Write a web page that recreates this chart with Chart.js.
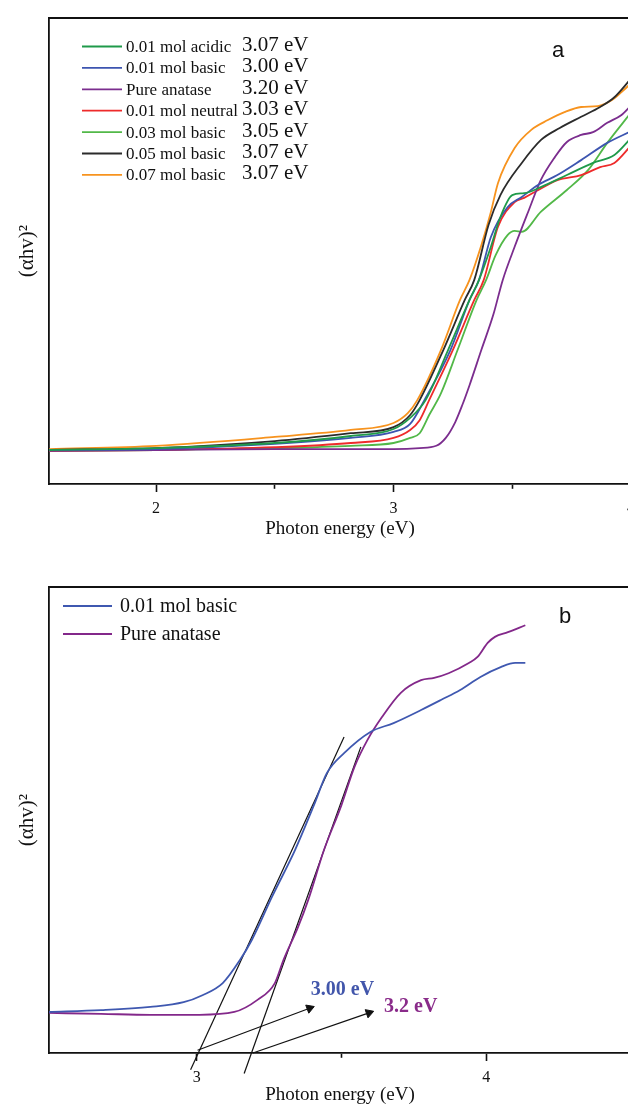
<!DOCTYPE html>
<html>
<head>
<meta charset="utf-8">
<script src="https://cdn.jsdelivr.net/npm/chart.js@4.4.1/dist/chart.umd.min.js"></script>
<style>
  html, body { margin: 0; padding: 0; background: #fff; overflow: hidden; width: 628px; height: 1107px; }
  .panel { position: absolute; left: 0; width: 660px; }
  #panelA { top: 0; height: 544px; }
  #panelB { top: 569px; height: 541px; }
</style>
</head>
<body>
<div class="panel" id="panelA"><canvas id="chartA" width="660" height="544"></canvas></div>
<div class="panel" id="panelB"><canvas id="chartB" width="660" height="541"></canvas></div>
<script>
const SERIF = "'Liberation Serif', 'Times New Roman', serif";
const SANS = "'Liberation Sans', Arial, sans-serif";

// ---- panel a : (ahv)^2 vs photon energy, all samples ----
const namesA = ["0.01 mol acidic", "0.01 mol basic", "Pure anatase", "0.01 mol neutral", "0.03 mol basic", "0.05 mol basic", "0.07 mol basic"];
const gapsA = ["3.07 eV", "3.00 eV", "3.20 eV", "3.03 eV", "3.05 eV", "3.07 eV", "3.07 eV"];
const colorsA = ["#1f9a4a", "#3d55b0", "#7b2d8e", "#ee2b2b", "#52b848", "#2b2b2b", "#f7931e"];
const ticksA = [2, 2.5, 3, 3.5, 4];

const acidicX = [1.55, 2.00, 2.50, 2.82, 3.00, 3.07, 3.135, 3.23, 3.32, 3.36, 3.41, 3.45, 3.50, 3.55, 3.62, 3.73, 3.84, 3.93, 4.00];
const acidicY = [7.3, 7.7, 8.8, 10.3, 11.8, 14.2, 18.0, 28.8, 39.5, 43.8, 50.9, 57.3, 62.0, 62.4, 63.7, 66.3, 68.9, 70.6, 74.2];
const basic01X = [1.55, 2.00, 2.50, 2.82, 3.00, 3.07, 3.13, 3.24, 3.32, 3.36, 3.41, 3.48, 3.54, 3.61, 3.69, 3.79, 3.90, 4.00];
const basic01Y = [7.3, 7.5, 8.6, 9.9, 11.2, 12.9, 18.0, 28.8, 39.5, 43.8, 53.0, 59.4, 61.6, 64.2, 66.3, 69.5, 73.2, 75.7];
const anataseX = [1.55, 2.00, 2.50, 3.00, 3.11, 3.18, 3.22, 3.26, 3.29, 3.32, 3.37, 3.42, 3.46, 3.51, 3.57, 3.62, 3.68, 3.73, 3.79, 3.84, 3.90, 3.96, 4.00];
const anataseY = [7.1, 7.3, 7.5, 7.5, 7.7, 8.2, 9.9, 13.3, 17.0, 21.2, 28.8, 36.3, 43.8, 50.9, 58.8, 65.2, 70.2, 73.4, 74.9, 75.5, 77.5, 79.2, 81.2];
const neutralX = [1.55, 2.00, 2.50, 2.82, 3.00, 3.07, 3.11, 3.15, 3.25, 3.34, 3.38, 3.44, 3.51, 3.55, 3.61, 3.69, 3.79, 3.87, 3.93, 4.00];
const neutralY = [7.1, 7.3, 7.9, 8.8, 9.9, 11.6, 13.7, 18.0, 28.8, 39.5, 43.8, 55.2, 60.5, 61.4, 63.1, 65.2, 66.3, 68.0, 68.9, 72.6];
const basic03X = [1.55, 2.00, 2.50, 2.82, 3.00, 3.07, 3.11, 3.15, 3.20, 3.27, 3.35, 3.39, 3.43, 3.48, 3.51, 3.54, 3.62, 3.73, 3.82, 3.90, 4.00];
const basic03Y = [7.1, 7.3, 7.7, 8.2, 8.8, 9.9, 10.9, 14.8, 19.5, 28.8, 39.5, 43.8, 49.1, 53.4, 54.3, 54.1, 58.4, 63.1, 67.4, 73.2, 79.7];
const basic05X = [1.55, 2.00, 2.50, 2.82, 3.00, 3.07, 3.11, 3.21, 3.30, 3.34, 3.40, 3.45, 3.54, 3.62, 3.70, 3.79, 3.87, 3.93, 4.00];
const basic05Y = [7.3, 7.7, 9.2, 10.9, 12.2, 14.8, 18.0, 28.8, 39.5, 43.8, 55.6, 62.0, 68.9, 73.8, 76.4, 78.8, 80.9, 83.0, 87.0];
const basic07X = [1.55, 2.00, 2.50, 2.82, 3.00, 3.06, 3.10, 3.20, 3.28, 3.32, 3.37, 3.41, 3.44, 3.51, 3.58, 3.65, 3.72, 3.79, 3.86, 3.92, 3.96, 4.00];
const basic07Y = [7.5, 8.2, 10.1, 11.6, 13.1, 15.2, 18.0, 28.8, 39.5, 43.8, 51.3, 58.4, 64.6, 72.1, 76.0, 78.1, 79.8, 80.9, 81.1, 82.4, 84.1, 86.0];

// ---- panel b : 0.01 mol basic vs pure anatase with tangents ----
const namesB = ["0.01 mol basic", "Pure anatase"];
const colorsB = ["#3f58b0", "#83288a"];
const ticksB = [3, 3.5, 4];
const bBasicX = [2.49, 2.67, 2.84, 2.955, 3.02, 3.09, 3.15, 3.19, 3.26, 3.34, 3.405, 3.45, 3.51, 3.60, 3.68, 3.775, 3.845, 3.91, 3.98, 4.05, 4.10, 4.135];
const bBasicY = [8.8, 9.2, 9.9, 10.9, 12.4, 15.0, 20.0, 24.2, 33.5, 43.6, 53.2, 60.1, 64.4, 68.9, 70.8, 73.6, 75.8, 77.9, 80.7, 82.8, 83.7, 83.7];
const bAnataseX = [2.49, 2.67, 2.84, 3.01, 3.13, 3.21, 3.27, 3.30, 3.35, 3.385, 3.44, 3.50, 3.545, 3.59, 3.64, 3.705, 3.775, 3.82, 3.87, 3.94, 3.97, 4.005, 4.03, 4.075, 4.135];
const bAnataseY = [8.6, 8.4, 8.2, 8.2, 8.8, 11.4, 15.0, 20.0, 27.0, 32.8, 43.6, 53.2, 61.4, 67.2, 72.1, 77.3, 80.0, 80.5, 81.5, 83.7, 85.0, 88.0, 89.3, 90.3, 91.8];
const tangentBasicX = [2.979, 3.509];
const tangentBasicY = [-3.6, 67.8];
const tangentAnataseX = [3.164, 3.567];
const tangentAnataseY = [-4.4, 65.7];
const arrowBasicX = [3.003, 3.39];
const arrowBasicY = [0.6, 9.6];
const arrowAnataseX = [3.194, 3.595];
const arrowAnataseY = [0.0, 8.6];
const gapLabelsB = ["3.00 eV", "3.2 eV"];
const gapLabelX = [3.394, 3.647];
const gapLabelY = [13.5, 9.9];

const pts = (xs, ys) => xs.map((x, i) => ({ x: x, y: ys[i] }));

function curve(label, color, xs, ys) {
  return {
    label: label, data: pts(xs, ys), borderColor: color, borderWidth: 1.8,
    pointRadius: 0, fill: false, cubicInterpolationMode: "monotone"
  };
}

function thinLine(xs, ys) {
  return { data: pts(xs, ys), borderColor: "#111", borderWidth: 1.2, pointRadius: 0, fill: false, clip: false };
}

function arrow(xs, ys) {
  return {
    data: pts(xs, ys), borderColor: "#111", borderWidth: 1.2, fill: false, clip: false,
    pointStyle: "triangle",
    pointRadius: ctx => (ctx.dataIndex === 1 ? 5 : 0),
    pointBackgroundColor: "#111", pointBorderColor: "#111", pointBorderWidth: 1,
    pointRotation: ctx => {
      const d = ctx.dataset.data;
      const sx = ctx.chart.scales.x, sy = ctx.chart.scales.y;
      const dx = sx.getPixelForValue(d[1].x) - sx.getPixelForValue(d[0].x);
      const dy = sy.getPixelForValue(d[1].y) - sy.getPixelForValue(d[0].y);
      return Math.atan2(dy, dx) * 180 / Math.PI + 90;
    }
  };
}

function xAxis(min, max, tickValues, height) {
  return {
    type: "linear", min: min, max: max,
    afterBuildTicks: axis => { axis.ticks = tickValues.map(v => ({ value: v })); },
    afterFit: axis => { axis.height = height; },
    ticks: {
      color: "#111", font: { family: SERIF, size: 16 }, padding: 7, maxRotation: 0, autoSkip: false,
      callback: v => (v % 1 === 0 ? String(v) : "")
    },
    grid: {
      drawOnChartArea: false, drawTicks: true, tickLength: 8, tickWidth: 1.6, tickColor: "#111",
      tickBorderDash: ctx => (ctx.tick && ctx.tick.value % 1 !== 0 ? [4, 40] : [])
    },
    border: { display: true, color: "#111", width: 1.8 },
    title: { display: true, text: "Photon energy (eV)", color: "#111", font: { family: SERIF, size: 19 }, padding: { top: 0, bottom: 4 } }
  };
}

const yAxis = {
  type: "linear", min: 0, max: 100,
  afterFit: axis => { axis.width = 49; },
  ticks: { display: false },
  grid: { display: false },
  border: { display: true, color: "#111", width: 1.8 },
  title: { display: true, text: "(\u03b1hv)\u00b2", color: "#111", font: { family: SERIF, size: 21 }, padding: { top: 15, bottom: 0 } }
};

const framePlugin = {
  id: "frame",
  afterDraw(chart) {
    const { ctx, chartArea: a } = chart;
    ctx.save();
    ctx.strokeStyle = "#111";
    ctx.lineWidth = 1.8;
    ctx.beginPath();
    ctx.moveTo(a.left, a.top);
    ctx.lineTo(a.right, a.top);
    ctx.lineTo(a.right, a.bottom);
    ctx.stroke();
    ctx.restore();
  }
};

const legendPlugin = {
  id: "sideLegend",
  afterDatasetsDraw(chart, args, opts) {
    const { ctx, chartArea } = chart;
    ctx.save();
    chart.data.datasets.filter(ds => ds.label).forEach((ds, i) => {
      const y = chartArea.top + opts.top + i * opts.step;
      const x0 = chartArea.left + opts.lineStart;
      ctx.strokeStyle = ds.borderColor;
      ctx.lineWidth = 1.8;
      ctx.beginPath();
      ctx.moveTo(x0, y);
      ctx.lineTo(x0 + opts.lineLength, y);
      ctx.stroke();
      ctx.fillStyle = "#111";
      ctx.textAlign = "left";
      ctx.textBaseline = "middle";
      ctx.font = opts.font;
      ctx.fillText(ds.label, x0 + opts.lineLength + opts.gap, y + 1);
      if (opts.values) {
        ctx.font = opts.valueFont;
        ctx.fillText(opts.values[i], chartArea.left + opts.valueX, y - 1);
      }
    });
    ctx.restore();
  }
};

const notesPlugin = {
  id: "notes",
  afterDatasetsDraw(chart, args, opts) {
    const { ctx, chartArea, scales } = chart;
    ctx.save();
    ctx.textBaseline = "middle";
    opts.items.forEach(it => {
      const x = it.inData ? scales.x.getPixelForValue(it.x) : chartArea.left + it.x;
      const y = it.inData ? scales.y.getPixelForValue(it.y) : chartArea.top + it.y;
      ctx.font = it.font;
      ctx.fillStyle = it.color;
      ctx.textAlign = it.align || "left";
      ctx.fillText(it.text, x, y);
    });
    ctx.restore();
  }
};

const dataA = [
  curve(namesA[0], colorsA[0], acidicX, acidicY),
  curve(namesA[1], colorsA[1], basic01X, basic01Y),
  curve(namesA[2], colorsA[2], anataseX, anataseY),
  curve(namesA[3], colorsA[3], neutralX, neutralY),
  curve(namesA[4], colorsA[4], basic03X, basic03Y),
  curve(namesA[5], colorsA[5], basic05X, basic05Y),
  curve(namesA[6], colorsA[6], basic07X, basic07Y)
];

new Chart(document.getElementById("chartA"), {
  type: "line",
  data: { datasets: dataA },
  options: {
    responsive: false, animation: false, devicePixelRatio: 1,
    layout: { padding: { left: 0, right: 29, top: 18, bottom: 0 } },
    scales: { x: xAxis(1.549, 4.0, ticksA, 60), y: yAxis },
    plugins: {
      legend: { display: false }, tooltip: { enabled: false },
      sideLegend: {
        top: 28.5, step: 21.4, lineStart: 33, lineLength: 40, gap: 4,
        font: "17px " + SERIF, valueFont: "21px " + SERIF, values: gapsA, valueX: 193
      },
      notes: { items: [{ text: "a", x: 509, y: 33, font: "22px " + SANS, color: "#111", align: "center" }] }
    }
  },
  plugins: [framePlugin, legendPlugin, notesPlugin]
});

const dataB = [
  curve(namesB[0], colorsB[0], bBasicX, bBasicY),
  curve(namesB[1], colorsB[1], bAnataseX, bAnataseY),
  thinLine(tangentBasicX, tangentBasicY),
  thinLine(tangentAnataseX, tangentAnataseY),
  arrow(arrowBasicX, arrowBasicY),
  arrow(arrowAnataseX, arrowAnataseY)
];

new Chart(document.getElementById("chartB"), {
  type: "line",
  data: { datasets: dataB },
  options: {
    responsive: false, animation: false, devicePixelRatio: 1,
    layout: { padding: { left: 0, right: 29, top: 18, bottom: 0 } },
    scales: { x: xAxis(2.49, 4.5, ticksB, 57), y: yAxis },
    plugins: {
      legend: { display: false }, tooltip: { enabled: false },
      sideLegend: { top: 19, step: 28, lineStart: 14, lineLength: 49, gap: 8, font: "20px " + SERIF },
      notes: {
        items: [
          { text: "b", x: 516, y: 30, font: "22px " + SANS, color: "#111", align: "center" },
          { text: gapLabelsB[0], x: gapLabelX[0], y: gapLabelY[0], inData: true, font: "bold 20px " + SERIF, color: "#4256ab" },
          { text: gapLabelsB[1], x: gapLabelX[1], y: gapLabelY[1], inData: true, font: "bold 20px " + SERIF, color: "#8a2b8a" }
        ]
      }
    }
  },
  plugins: [framePlugin, legendPlugin, notesPlugin]
});
</script>
</body>
</html>
